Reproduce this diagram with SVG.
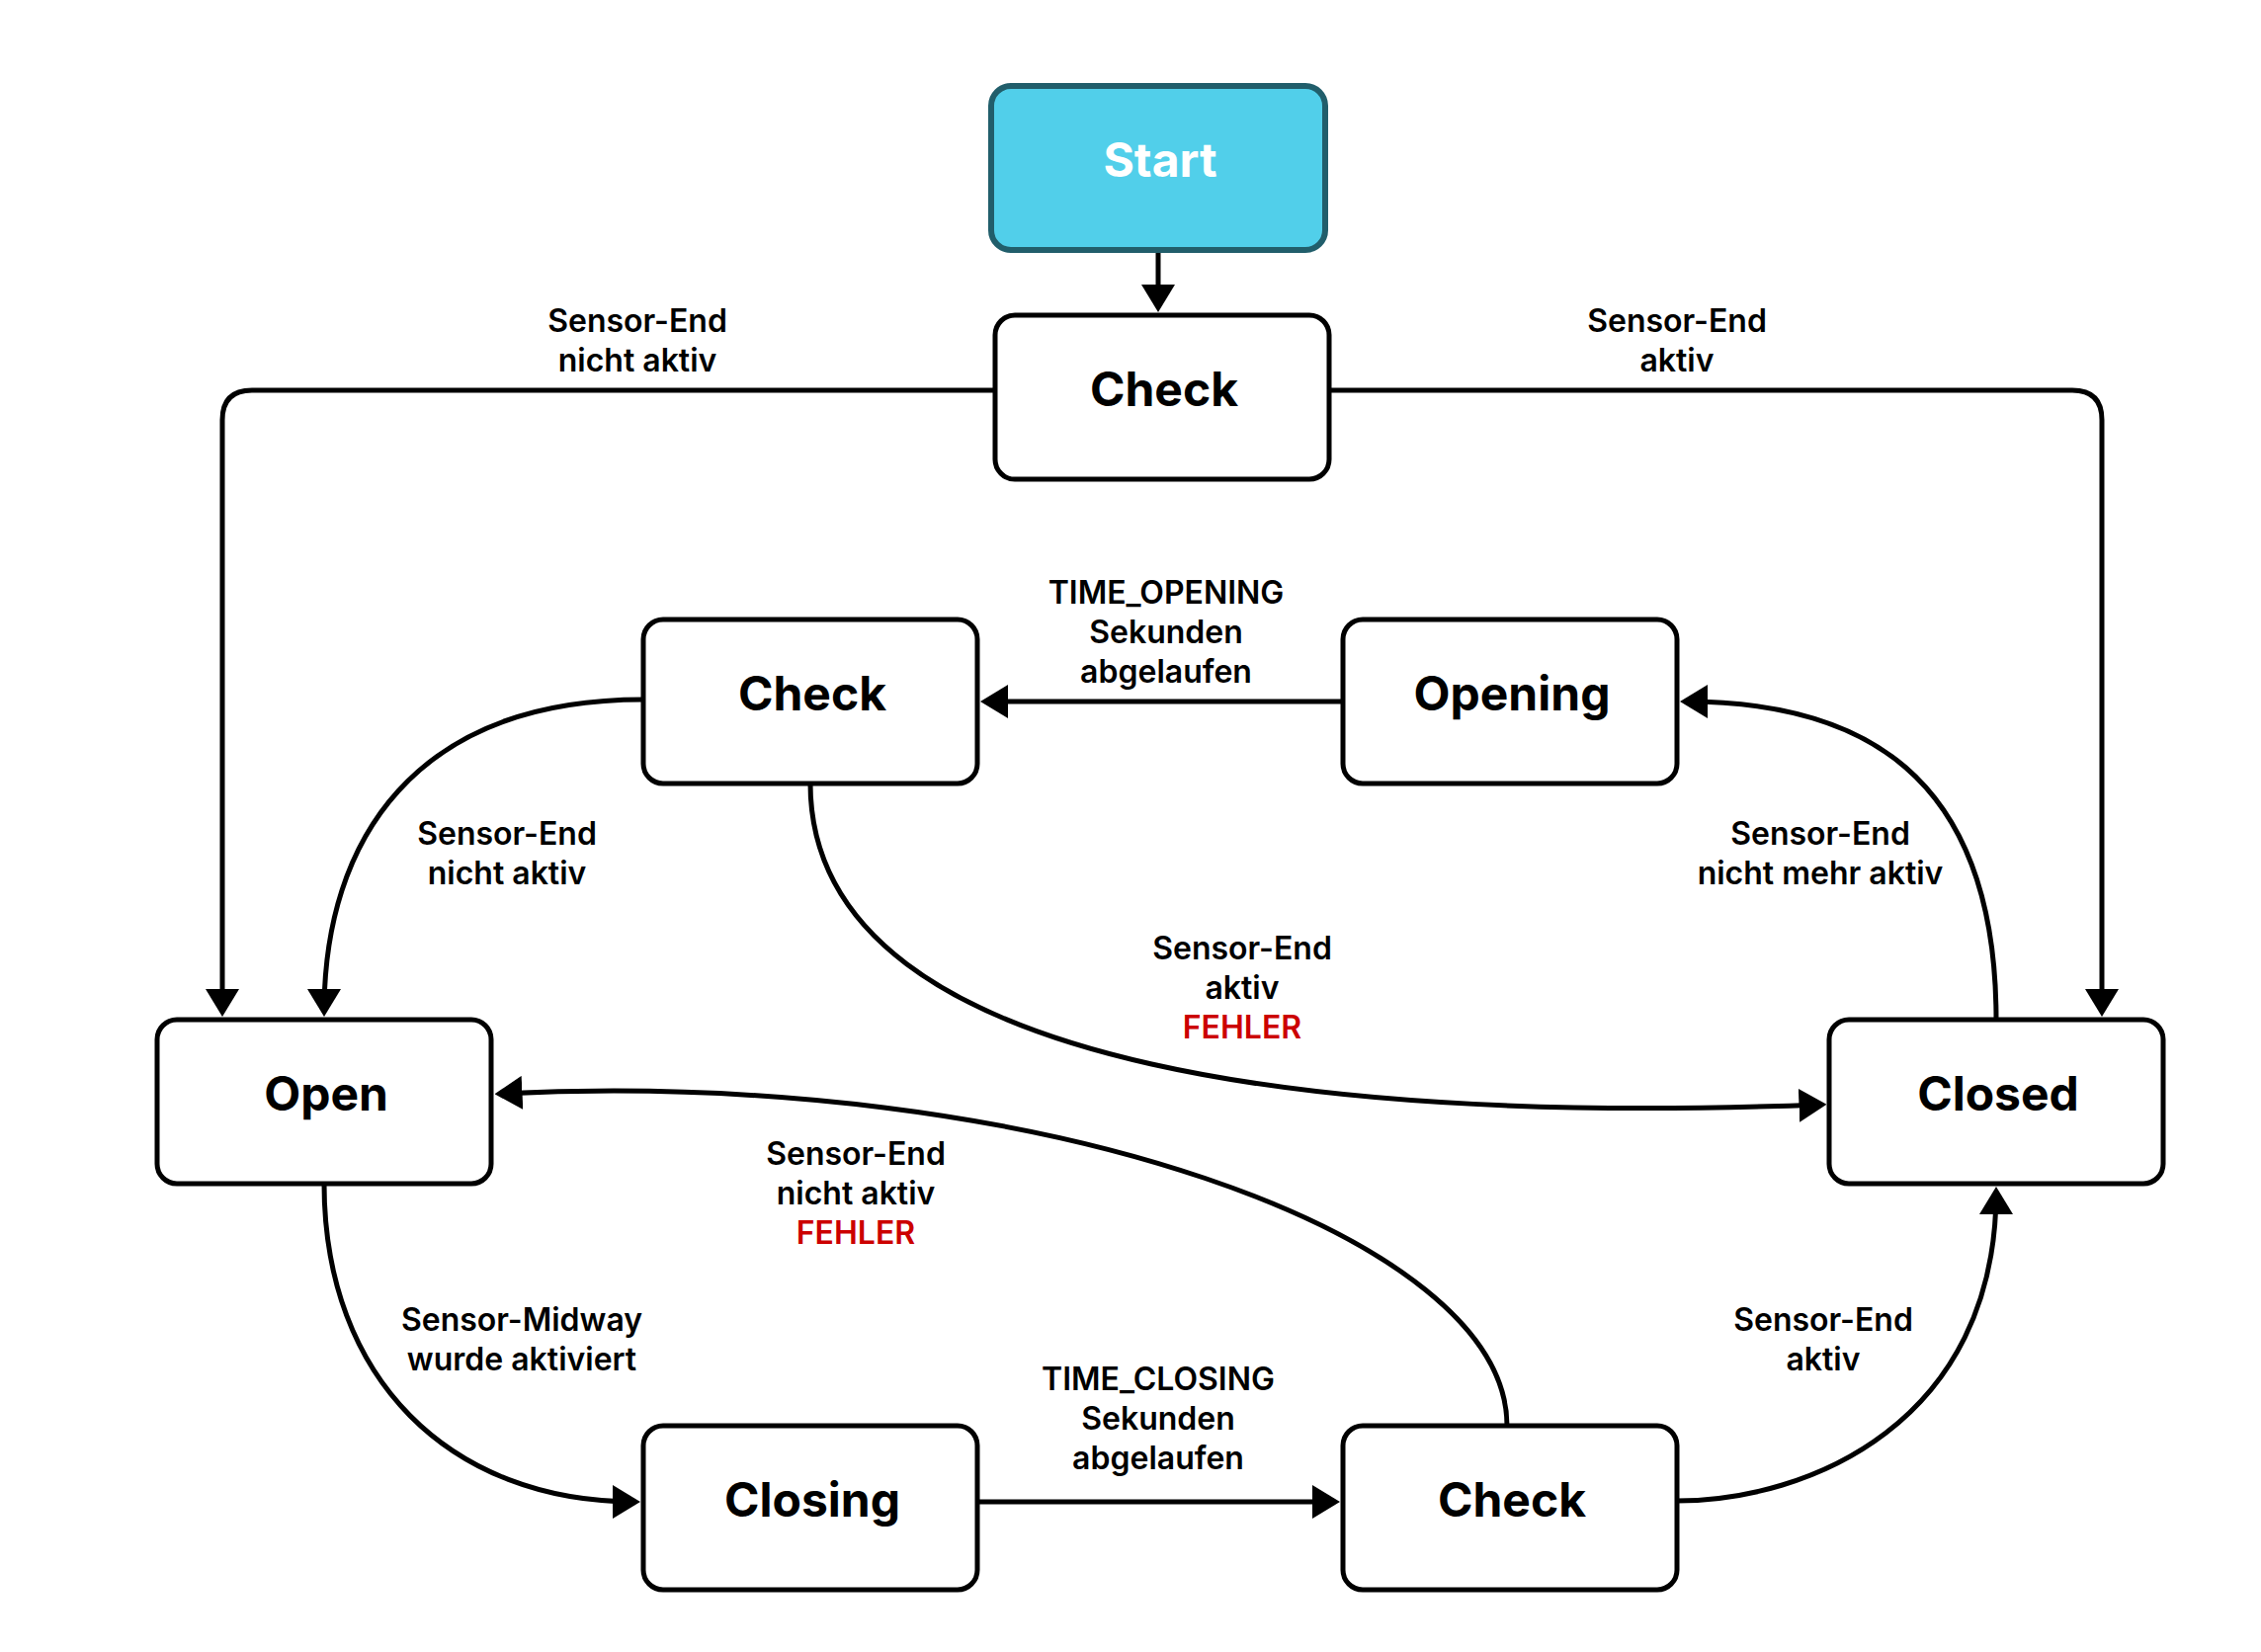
<svg xmlns="http://www.w3.org/2000/svg" width="2288" height="1672" viewBox="0 0 2288 1672">
<defs>
<style>
.node{fill:#ffffff;stroke:#000000;stroke-width:5}
.start{fill:#51CFEA;stroke:#215E6B;stroke-width:6}
.nt{font-family:Inter,"Liberation Sans",sans-serif;font-weight:700;font-size:48px;fill:#000000;text-anchor:middle}
.st{fill:#ffffff}
.edge{fill:none;stroke:#000000;stroke-width:5;marker-end:url(#arr)}
.lb{font-family:Inter,"Liberation Sans",sans-serif;font-weight:600;font-size:32px;fill:#000000;text-anchor:middle}
.err{fill:#CC0000}
</style>
<marker id="arr" markerUnits="userSpaceOnUse" markerWidth="28" markerHeight="34" refX="23" refY="17" orient="auto">
<path d="M0,0 L28,17 L0,34 z" fill="#000000"/>
</marker>
</defs>
<rect width="2288" height="1672" fill="#ffffff"/>
<g id="connectors">
<path class="edge" d="M1172,253 V311"/>
<path class="edge" d="M1007,395 H255 Q225,395 225,425 V1024"/>
<path class="edge" d="M1345,395 H2097 Q2127,395 2127,425 V1024"/>
<path class="edge" d="M1359,710 H997"/>
<path class="edge" d="M2020,1032 C2020,780 1880,710 1705,710"/>
<path class="edge" d="M820,793 C820,1100 1400,1135 1843.5,1118"/>
<path class="edge" d="M651,708 C420,708 328,850 328,1024"/>
<path class="edge" d="M1525,1443 C1525,1250 1050,1080 505.5,1107"/>
<path class="edge" d="M328,1198 C328,1395 455,1520 643,1520"/>
<path class="edge" d="M989,1520 H1351"/>
<path class="edge" d="M1697,1519 C1830,1519 2020,1440 2020,1206"/>
</g>
<g id="labels">
<text class="lb" x="645" y="336">Sensor-End</text>
<text class="lb" x="645" y="376">nicht aktiv</text>
<text class="lb" x="1697" y="336">Sensor-End</text>
<text class="lb" x="1697" y="376">aktiv</text>
<text class="lb" x="1180" y="611">TIME_OPENING</text>
<text class="lb" x="1180" y="651">Sekunden</text>
<text class="lb" x="1180" y="691">abgelaufen</text>
<text class="lb" x="513" y="855">Sensor-End</text>
<text class="lb" x="513" y="895">nicht aktiv</text>
<text class="lb" x="1842" y="855">Sensor-End</text>
<text class="lb" x="1842" y="895">nicht mehr aktiv</text>
<text class="lb" x="1257" y="971">Sensor-End</text>
<text class="lb" x="1257" y="1011">aktiv</text>
<text class="lb err" x="1257" y="1051">FEHLER</text>
<text class="lb" x="866" y="1179">Sensor-End</text>
<text class="lb" x="866" y="1219">nicht aktiv</text>
<text class="lb err" x="866" y="1259">FEHLER</text>
<text class="lb" x="528" y="1347">Sensor-Midway</text>
<text class="lb" x="528" y="1387">wurde aktiviert</text>
<text class="lb" x="1172" y="1407">TIME_CLOSING</text>
<text class="lb" x="1172" y="1447">Sekunden</text>
<text class="lb" x="1172" y="1487">abgelaufen</text>
<text class="lb" x="1845" y="1347">Sensor-End</text>
<text class="lb" x="1845" y="1387">aktiv</text>
</g>
<g id="node-start">
<rect class="start" x="1003" y="87" width="338" height="166" rx="20"/>
<text class="nt st" x="1174" y="179">Start</text>
</g>
<g id="node-check1">
<rect class="node" x="1007" y="319" width="338" height="166" rx="20"/>
<text class="nt" x="1178" y="411">Check</text>
</g>
<g id="node-check2">
<rect class="node" x="651" y="627" width="338" height="166" rx="20"/>
<text class="nt" x="822" y="719">Check</text>
</g>
<g id="node-opening">
<rect class="node" x="1359" y="627" width="338" height="166" rx="20"/>
<text class="nt" x="1530" y="719">Opening</text>
</g>
<g id="node-open">
<rect class="node" x="159" y="1032" width="338" height="166" rx="20"/>
<text class="nt" x="330" y="1124">Open</text>
</g>
<g id="node-closed">
<rect class="node" x="1851" y="1032" width="338" height="166" rx="20"/>
<text class="nt" x="2022" y="1124">Closed</text>
</g>
<g id="node-closing">
<rect class="node" x="651" y="1443" width="338" height="166" rx="20"/>
<text class="nt" x="822" y="1535">Closing</text>
</g>
<g id="node-check3">
<rect class="node" x="1359" y="1443" width="338" height="166" rx="20"/>
<text class="nt" x="1530" y="1535">Check</text>
</g>
</svg>
